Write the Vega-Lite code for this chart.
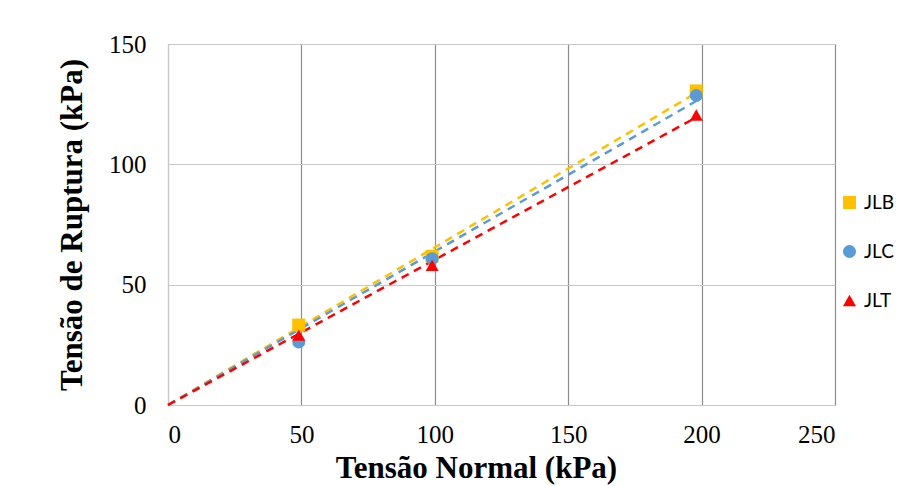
{
  "$schema": "https://vega.github.io/schema/vega-lite/v6.json",
  "autosize": "none",
  "width": 667,
  "height": 361,
  "padding": {"left": 168, "top": 44, "right": 64, "bottom": 81},
  "background": "white",
  "config": {
    "view": {"stroke": "#c8c8c8", "strokeWidth": 1},
    "font": "Liberation Serif"
  },
  "datasets": {
    "pts": [
      {"x": 49, "y": 33.2, "s": "JLB"},
      {"x": 99, "y": 61.8, "s": "JLB"},
      {"x": 198, "y": 130.5, "s": "JLB"},
      {"x": 49, "y": 26.2, "s": "JLC"},
      {"x": 99, "y": 60.8, "s": "JLC"},
      {"x": 198, "y": 128.6, "s": "JLC"},
      {"x": 49, "y": 29.0, "s": "JLT"},
      {"x": 99, "y": 58.0, "s": "JLT"},
      {"x": 198, "y": 120.5, "s": "JLT"}
    ],
    "lines": [
      {"x": 0, "y": 0, "trend": "JLB"},
      {"x": 198, "y": 129.7, "trend": "JLB"},
      {"x": 0, "y": 0, "trend": "JLC"},
      {"x": 198, "y": 126.3, "trend": "JLC"},
      {"x": 0, "y": 0, "trend": "JLT"},
      {"x": 198, "y": 119.5, "trend": "JLT"}
    ]
  },
  "encoding": {
    "x": {
      "field": "x", "type": "quantitative",
      "scale": {"domain": [0, 250], "nice": false, "zero": true},
      "axis": {
        "values": [0, 50, 100, 150, 200, 250],
        "title": "Tensão Normal (kPa)",
        "titleFont": "Liberation Serif", "titleFontSize": 31, "titleFontWeight": "bold",
        "titleColor": "black", "titlePadding": 6, "titleX": 308,
        "labelFont": "Liberation Serif", "labelFontSize": 25, "labelColor": "black",
        "labelPadding": 17,
        "ticks": false, "domainColor": "#c8c8c8",
        "gridColor": "#8c8c8c", "gridWidth": 1.2
      }
    },
    "y": {
      "field": "y", "type": "quantitative",
      "scale": {"domain": [0, 150], "nice": false, "zero": true},
      "axis": {
        "values": [0, 50, 100, 150],
        "title": "Tensão de Ruptura (kPa)",
        "titleFont": "Liberation Serif", "titleFontSize": 31, "titleFontWeight": "bold",
        "titleColor": "black", "titlePadding": 20,
        "labelFont": "Liberation Serif", "labelFontSize": 25, "labelColor": "black",
        "labelPadding": 22,
        "ticks": false, "domainColor": "#c8c8c8",
        "gridColor": "#c8c8c8", "gridWidth": 1
      }
    }
  },
  "layer": [
    {
      "data": {"name": "lines"},
      "transform": [{"filter": "datum.trend == 'JLB'"}],
      "mark": {"type": "line", "strokeDash": [8, 6], "strokeWidth": 2.5, "color": "#FFC000"},
      "encoding": {}
    },
    {
      "data": {"name": "lines"},
      "transform": [{"filter": "datum.trend == 'JLC'"}],
      "mark": {"type": "line", "strokeDash": [8, 6], "strokeWidth": 2.5, "color": "#5B9BD5"},
      "encoding": {}
    },
    {
      "data": {"name": "lines"},
      "transform": [{"filter": "datum.trend == 'JLT'"}],
      "mark": {"type": "line", "strokeDash": [8, 6], "strokeWidth": 2.5, "color": "#FF0000"},
      "encoding": {}
    },
    {
      "data": {"name": "pts"},
      "mark": {"type": "point", "filled": true, "opacity": 1, "size": 170},
      "encoding": {
        "color": {
          "field": "s", "type": "nominal",
          "scale": {"domain": ["JLB", "JLC", "JLT"], "range": ["#FFC000", "#5B9BD5", "#FF0000"]},
          "legend": {
            "title": null, "orient": "none", "legendX": 672, "legendY": 149,
            "labelFont": "Lato", "labelFontSize": 19, "labelColor": "black",
            "symbolSize": 170, "rowPadding": 29, "labelOffset": 5
          }
        },
        "shape": {
          "field": "s", "type": "nominal",
          "scale": {"domain": ["JLB", "JLC", "JLT"], "range": ["square", "circle", "triangle-up"]}
        }
      }
    }
  ]
}
